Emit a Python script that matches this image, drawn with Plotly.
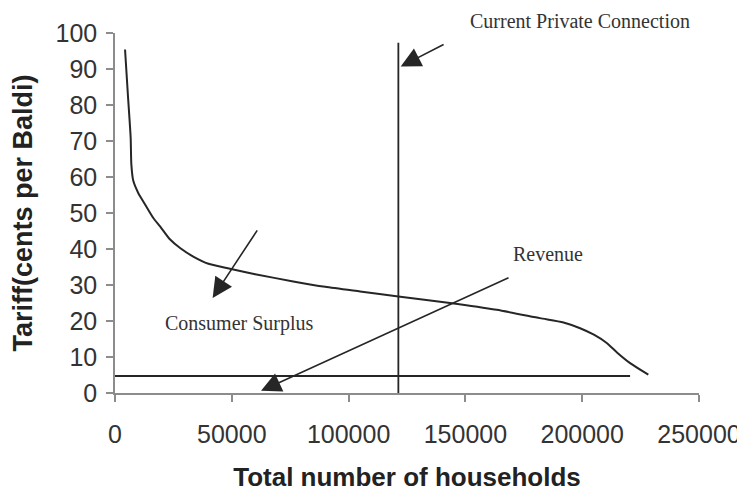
import plotly.graph_objects as go

# Demand curve
households = [4300, 5500, 6700, 7000, 7800, 10000, 12100, 16400, 19300, 23500, 28000,
              33500, 40000, 47800, 60000, 76300, 90000, 104900, 121300, 143400, 163400,
              181900, 192000, 199100, 205000, 210500, 215000, 220500, 228300]
tariff = [95.4, 83.0, 71.0, 63.5, 59.0, 55.5, 53.2, 48.6, 46.3, 42.7, 40.2,
          37.9, 35.9, 34.7, 33.0, 31.0, 29.5, 28.2, 26.8, 25.0, 23.1,
          20.8, 19.6, 18.0, 16.2, 13.9, 11.2, 8.3, 5.1]

# Cost-recovery tariff line and current private connection line
cost_x = [0, 220500]
cost_y = [4.7, 4.7]
current_x = [121300, 121300]
current_y = [0, 97.3]

x_ticks = [0, 50000, 100000, 150000, 200000, 250000]
y_ticks = [0, 10, 20, 30, 40, 50, 60, 70, 80, 90, 100]

# Labels: (text, x in data units, y in paper units)
labels = [("Current Private Connection", 199100, 1.032),
          ("Revenue", 185400, 0.387),
          ("Consumer Surplus", 53100, 0.194)]
# Arrows: (tip x, tip y, tail x, tail y)
arrows = [(122300, 90.7, 141300, 97.0),
          (62500, 0.6, 169100, 32.2),
          (41800, 26.4, 61300, 45.6)]

line_color = "#262626"
text_color = "#333333"
axis_color = "#8c8c8c"

fig = go.Figure()
fig.add_trace(go.Scatter(x=households, y=tariff, mode="lines",
                         line=dict(color=line_color, width=2, shape="spline", smoothing=0.6),
                         showlegend=False, hoverinfo="skip"))
fig.add_trace(go.Scatter(x=cost_x, y=cost_y, mode="lines",
                         line=dict(color=line_color, width=2),
                         showlegend=False, hoverinfo="skip"))
fig.add_trace(go.Scatter(x=current_x, y=current_y, mode="lines",
                         line=dict(color=line_color, width=1.8),
                         showlegend=False, hoverinfo="skip"))

for text, x, y in labels:
    fig.add_annotation(x=x, y=y, xref="x", yref="paper", text=text, showarrow=False,
                       font=dict(family="Liberation Serif, Times New Roman, serif",
                                 size=20, color=text_color),
                       xanchor="center", yanchor="middle")

for tx, ty, ax, ay in arrows:
    fig.add_annotation(x=tx, y=ty, xref="x", yref="y", ax=ax, ay=ay,
                       axref="x", ayref="y", text="", showarrow=True,
                       arrowhead=2, arrowsize=2.5, arrowwidth=1.6,
                       arrowcolor=line_color)

# The page body keeps an 8px margin, so the figure is 8px smaller than the window
fig.update_layout(
    width=737, height=484,
    margin=dict(l=107, r=46, t=25, b=99),
    paper_bgcolor="white", plot_bgcolor="white",
    font=dict(family="Liberation Sans, Arial, sans-serif", color=text_color),
    xaxis=dict(range=[0, 250000], tickvals=x_ticks, ticktext=[str(v) for v in x_ticks],
               showgrid=False, zeroline=False, showline=True, linecolor=axis_color,
               linewidth=1.5, ticks="outside", ticklen=7, tickcolor=axis_color,
               tickwidth=1.5, tickfont=dict(size=25, color=text_color),
               ticklabelstandoff=11, automargin=False,
               title=dict(text="<b>Total number of households</b>",
                          font=dict(size=26, color="#222222"), standoff=23)),
    yaxis=dict(range=[0, 100], tickvals=y_ticks, showgrid=False, zeroline=False,
               showline=True, linecolor=axis_color, linewidth=1.5, ticks="outside",
               ticklen=7, tickcolor=axis_color, tickwidth=1.5,
               tickfont=dict(size=25, color=text_color), ticklabelstandoff=4,
               automargin=False,
               title=dict(text="<b>Tariff(cents per Baldi)</b>",
                          font=dict(size=27, color="#222222"), standoff=17)),
)

fig.write_html("out.html")
